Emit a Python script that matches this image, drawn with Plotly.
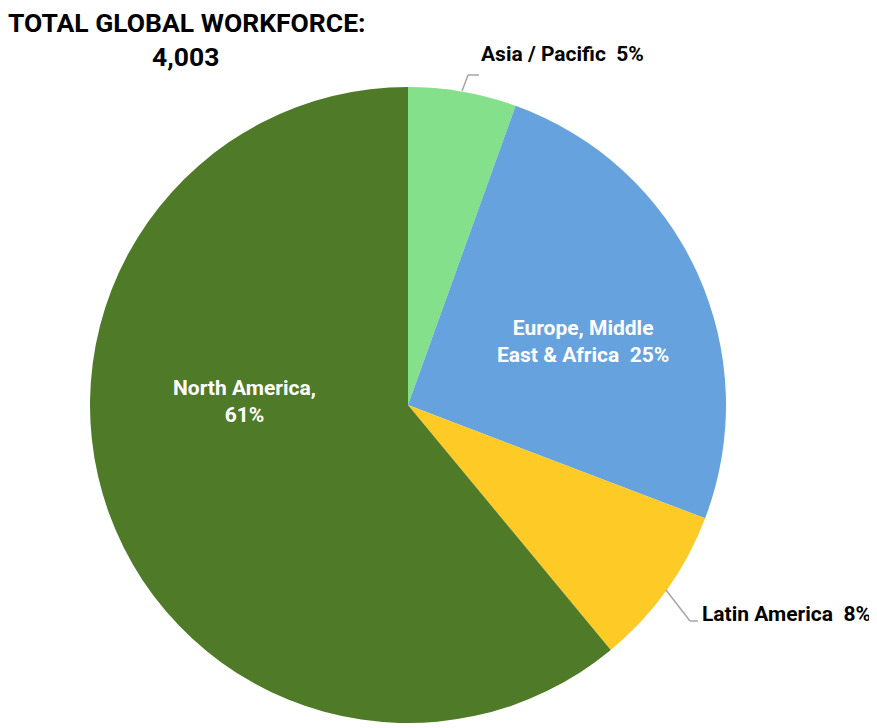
import plotly.graph_objects as go

regions = ["Asia / Pacific", "Europe, Middle East & Africa", "Latin America", "North America"]
headcount = [220, 1013, 328, 2442]
pct_labels = ["5%", "25%", "8%", "61%"]
colors = ["#85E08C", "#66A3DE", "#FDCA26", "#4F7A28"]
total = 4003

W, H = 877, 728
OFF = 8  # page body margin
cx, cy, r = 408 - OFF, 405 - OFF, 318

fig = go.Figure(go.Pie(
    labels=regions, values=headcount, sort=False, direction="clockwise", rotation=0,
    marker=dict(colors=colors, line=dict(width=0)),
    textinfo="none", hoverinfo="label+percent", showlegend=False,
    domain=dict(x=[(cx - r) / W, (cx + r) / W], y=[(H - cy - r) / H, (H - cy + r) / H]),
))

LFONT = "Roboto, Liberation Sans, sans-serif"

def px(x, y):
    return dict(x=(x - OFF) / W, y=1 - (y - OFF) / H, xref="paper", yref="paper")

anns = [
    dict(text="<b>TOTAL GLOBAL WORKFORCE:</b>", xanchor="left", yanchor="middle",
         font=dict(family=LFONT, size=26.5, color="#000"), **px(6, 22)),
    dict(text=f"<b>{total:,}</b>", xanchor="center", yanchor="middle",
         font=dict(family=LFONT, size=26.5, color="#000"), **px(185, 57)),
    dict(text=f"<b>{regions[0]}  {pct_labels[0]}</b>", xanchor="left", yanchor="middle",
         font=dict(family=LFONT, size=21, color="#000"), **px(479, 54)),
    dict(text=f"<b>Europe, Middle<br>East &amp; Africa  {pct_labels[1]}</b>", xanchor="center", yanchor="middle",
         font=dict(family=LFONT, size=21, color="#fff"), **px(583, 342)),
    dict(text=f"<b>{regions[2]}  {pct_labels[2]}</b>", xanchor="left", yanchor="middle",
         font=dict(family=LFONT, size=21, color="#000"), **px(700, 614)),
    dict(text=f"<b>{regions[3]},<br>{pct_labels[3]}</b>", xanchor="center", yanchor="middle",
         font=dict(family=LFONT, size=21, color="#fff"), **px(244, 401)),
]
for a in anns:
    a["showarrow"] = False
    a["align"] = "center"

def seg(x0, y0, x1, y1):
    return dict(type="line", xref="paper", yref="paper",
                x0=(x0 - OFF) / W, y0=1 - (y0 - OFF) / H,
                x1=(x1 - OFF) / W, y1=1 - (y1 - OFF) / H,
                line=dict(color="#A6A6A6", width=1.5))

shapes = [
    seg(462, 91, 468, 75), seg(468, 75, 479, 75),
    seg(666, 590, 690, 621), seg(690, 621, 698, 621),
]

fig.update_layout(
    width=W, height=H, margin=dict(l=0, r=0, t=0, b=0),
    paper_bgcolor="#fff", plot_bgcolor="#fff",
    annotations=anns, shapes=shapes,
)
fig.write_html("out.html")
